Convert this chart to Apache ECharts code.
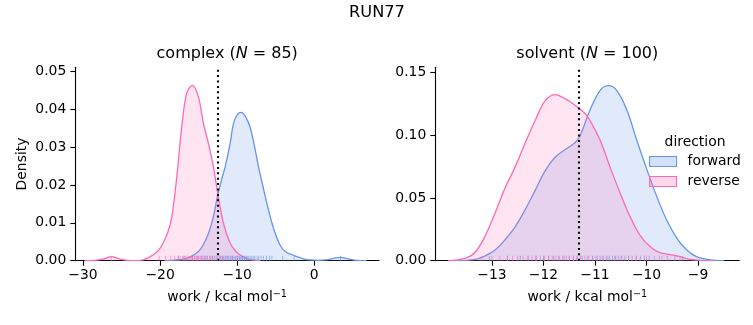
<!DOCTYPE html>
<html>
<head>
<meta charset="utf-8">
<script src="https://cdn.jsdelivr.net/npm/echarts@6/dist/echarts.min.js"></script>
<style>html,body{margin:0;padding:0;background:#fff}#c{width:753px;height:325px}</style>
</head>
<body>
<div id="c"></div>
<script>
// ---- data ----
const suptitle = 'RUN77';
const panels = ['complex', 'solvent'];
const panelN = [85, 100];
const directions = ['forward', 'reverse'];

// KDE curves [work, density]
const complexForward = [[-19.4,0],[-17.8,0.0002],[-16.75,0.0005],[-15.9,0.0012],[-15.03,0.0024],[-14.4,0.0042],[-13.73,0.0072],[-13.1,0.0115],[-12.57,0.0169],[-12.05,0.0212],[-11.56,0.0248],[-10.91,0.031],[-10.48,0.0362],[-9.95,0.0387],[-9.44,0.0392],[-8.9,0.0380],[-8.31,0.0352],[-7.75,0.0302],[-7.23,0.0248],[-6.65,0.0196],[-6.14,0.0151],[-5.6,0.0108],[-5.06,0.0072],[-4.4,0.0040],[-3.77,0.0024],[-3.0,0.0017],[-2.25,0.0011],[-1.4,0.0005],[-0.52,0.0002],[0.5,0.0001],[1.5,0.0002],[2.5,0.0006],[3.38,0.0009],[4.4,0.0005],[5.55,0.0001],[6.8,0]];
const complexReverse = [[-29.8,0],[-28.5,0.0001],[-27.3,0.0005],[-26.3,0.00106],[-25.3,0.0005],[-24.3,0.0001],[-23.0,0],[-22.2,0.0002],[-21.5,0.0008],[-20.65,0.0019],[-20.1,0.0030],[-19.57,0.0048],[-19.0,0.0075],[-18.48,0.0116],[-17.83,0.0222],[-17.19,0.0354],[-16.55,0.0442],[-15.81,0.0463],[-15.03,0.0433],[-14.38,0.0363],[-13.73,0.0310],[-13.08,0.0248],[-12.5,0.0175],[-11.78,0.0099],[-10.91,0.0046],[-10.2,0.0025],[-9.61,0.0015],[-8.9,0.0007],[-8.3,0.0003],[-7.0,0]];
const solventForward = [[-13.72,0],[-13.33,0.0011],[-13.14,0.0037],[-12.94,0.0085],[-12.75,0.0165],[-12.55,0.027],[-12.36,0.0403],[-12.16,0.0562],[-11.97,0.0715],[-11.78,0.0822],[-11.58,0.0885],[-11.39,0.0940],[-11.29,0.0995],[-11.10,0.1198],[-10.90,0.1357],[-10.74,0.1394],[-10.58,0.1357],[-10.38,0.1198],[-10.19,0.0959],[-9.99,0.0721],[-9.80,0.0509],[-9.61,0.0324],[-9.41,0.0178],[-9.22,0.0085],[-9.03,0.0032],[-8.77,0.0006],[-8.5,0]];
const solventReverse = [[-13.85,0],[-13.52,0.0019],[-13.33,0.0065],[-13.14,0.019],[-12.94,0.038],[-12.75,0.0575],[-12.55,0.0747],[-12.36,0.0933],[-12.16,0.1118],[-11.97,0.1272],[-11.78,0.1323],[-11.58,0.129],[-11.39,0.1238],[-11.19,0.117],[-11.10,0.1118],[-10.90,0.0959],[-10.71,0.0747],[-10.51,0.0536],[-10.32,0.035],[-10.13,0.0204],[-9.93,0.0111],[-9.74,0.0064],[-9.54,0.0048],[-9.35,0.0032],[-9.16,0.0011],[-8.9,0.0002],[-8.7,0]];

// rug observations (estimated positions)
const complexForwardRug = [-17.6,-16.9,-15.8,-15.1,-14.6,-14.2,-13.9,-13.5,-13.2,-12.9,-12.6,-12.3,-12.1,-11.9,-11.7,-11.5,-11.3,-11.1,-10.9,-10.7,-10.6,-10.4,-10.2,-10.0,-9.9,-9.7,-9.6,-9.4,-9.3,-9.1,-9.0,-8.8,-8.7,-8.5,-8.3,-8.1,-7.9,-7.7,-7.4,-7.2,-6.9,-6.6,-6.2,-5.8,-5.5,-4.1,-2.6,3.4];
const complexReverseRug = [-26.3,-20.1,-19.3,-18.6,-18.1,-17.7,-17.4,-17.1,-16.9,-16.7,-16.5,-16.3,-16.1,-15.9,-15.8,-15.6,-15.5,-15.3,-15.2,-15.0,-14.8,-14.6,-14.4,-14.1,-13.9,-13.6,-13.3,-13.0,-12.6,-12.2,-11.8,-11.3,-10.6,-10.0];
const solventForwardRug = [-13.05,-12.7,-12.45,-12.3,-12.15,-12.0,-11.9,-11.8,-11.7,-11.6,-11.5,-11.42,-11.35,-11.25,-11.15,-11.05,-10.98,-10.9,-10.84,-10.78,-10.72,-10.66,-10.6,-10.55,-10.48,-10.42,-10.35,-10.28,-10.2,-10.12,-10.04,-9.95,-9.85,-9.75,-9.6,-9.45,-9.3];
const solventReverseRug = [-13.2,-13.0,-12.85,-12.7,-12.6,-12.5,-12.4,-12.3,-12.22,-12.14,-12.06,-11.98,-11.9,-11.83,-11.76,-11.7,-11.63,-11.56,-11.5,-11.42,-11.35,-11.28,-11.2,-11.12,-11.04,-10.95,-10.85,-10.75,-10.62,-10.5,-10.35,-10.2,-10.0,-9.7,-9.35];

// vertical dotted reference lines
const refLines = [-12.55, -11.31];

// axis ticks
const complexXTicks = [-30, -20, -10, 0];
const complexYTicks = [0, 0.01, 0.02, 0.03, 0.04, 0.05];
const solventXTicks = [-13, -12, -11, -10, -9];
const solventYTicks = [0, 0.05, 0.10, 0.15];
const xRanges = [[-31.0, 8.4], [-14.1, -8.2]];
const yRanges = [[0, 0.0511], [0, 0.154]];

// ---- chart ----
const FONT = 'DejaVu Sans';
const BLUE = '#6495ED', PINK = '#FF69B4';
const BLUE_FILL = 'rgba(100,149,237,0.28)', PINK_FILL = 'rgba(255,105,180,0.26)';
const minus = v => (v < 0 ? '\u2212' + Math.abs(v) : String(v));

function xAxisCfg(i, ticks) {
  return {
    type: 'value', gridIndex: i, min: xRanges[i][0], max: xRanges[i][1],
    name: 'work / kcal mol{sup|\u22121}', nameLocation: 'middle', nameGap: 29,
    nameTextStyle: { fontFamily: FONT, fontSize: 13.9, color: '#000', lineHeight: 16,
      rich: { sup: { fontFamily: FONT, fontSize: 9.7, color: '#000', verticalAlign: 'top', lineHeight: 10 } } },
    axisLine: { show: true, onZero: false, lineStyle: { color: '#000', width: 1.1 } },
    axisTick: { show: true, length: 5, lineStyle: { color: '#000', width: 1.1 }, customValues: ticks },
    axisLabel: { show: true, margin: 8, fontFamily: FONT, fontSize: 13.9, color: '#000', customValues: ticks, formatter: minus },
    splitLine: { show: false }
  };
}
function yAxisCfg(i, ticks, name) {
  return {
    type: 'value', gridIndex: i, min: yRanges[i][0], max: yRanges[i][1],
    name: name, nameLocation: 'middle', nameGap: 46,
    nameTextStyle: { fontFamily: FONT, fontSize: 13.9, color: '#000' },
    axisLine: { show: true, onZero: false, lineStyle: { color: '#000', width: 1.1 } },
    axisTick: { show: true, length: 5, lineStyle: { color: '#000', width: 1.1 }, customValues: ticks },
    axisLabel: { show: true, margin: 9, fontFamily: FONT, fontSize: 13.9, color: '#000', customValues: ticks, formatter: v => v.toFixed(2) },
    splitLine: { show: false }
  };
}
function kde(name, data, i, line, fill, z, refX) {
  const s = {
    name: name, type: 'line', xAxisIndex: i, yAxisIndex: i, data: data, smooth: 0.35,
    showSymbol: false, symbol: 'none', z: z,
    lineStyle: { color: line, width: 1.3 }, itemStyle: { color: line },
    areaStyle: { color: fill, origin: 'start' }
  };
  if (refX !== undefined) {
    s.markLine = { silent: true, symbol: 'none', label: { show: false }, animation: false,
      lineStyle: { color: '#000', type: [2, 3.4], width: 2.1 }, data: [{ xAxis: refX }] };
  }
  return s;
}
function rug(name, vals, i, color) {
  return {
    name: name, type: 'scatter', xAxisIndex: i, yAxisIndex: i, silent: true, z: 6,
    symbol: 'rect', symbolSize: [1, 5], symbolOffset: [0, -2.5],
    itemStyle: { color: color, opacity: 0.6 },
    data: vals.map(v => [v, 0])
  };
}

const chart = echarts.init(document.getElementById('c'), null, { renderer: 'canvas' });
const titleRich = { i: { fontFamily: FONT, fontSize: 16, fontStyle: 'italic', fill: '#000' } };
chart.setOption({
  animation: false,
  backgroundColor: '#fff',
  grid: [
    { left: 75.3, top: 67.3, width: 303.7, height: 193.4 },
    { left: 435.3, top: 67.3, width: 304, height: 193.4 }
  ],
  xAxis: [xAxisCfg(0, complexXTicks), xAxisCfg(1, solventXTicks)],
  yAxis: [yAxisCfg(0, complexYTicks, 'Density'), yAxisCfg(1, solventYTicks, '')],
  legend: {
    orient: 'vertical', left: 649, top: 154.5, padding: 0, itemWidth: 27, itemHeight: 10, itemGap: 6,
    selectedMode: false,
    textStyle: { fontFamily: FONT, fontSize: 13.9, color: '#000', padding: [0, 0, 0, 6] },
    data: [
      { name: directions[0], icon: 'rect', itemStyle: { color: BLUE_FILL, borderColor: BLUE, borderWidth: 1.1 } },
      { name: directions[1], icon: 'rect', itemStyle: { color: PINK_FILL, borderColor: PINK, borderWidth: 1.1 } }
    ]
  },
  graphic: [
    { type: 'text', x: 377, y: 13, style: { text: suptitle, fontFamily: FONT, fontSize: 16.2, fill: '#000', align: 'center', verticalAlign: 'middle' } },
    { type: 'text', x: 227.2, y: 54, style: { text: panels[0] + ' ({i|N} = ' + panelN[0] + ')', fontFamily: FONT, fontSize: 16, fill: '#000', align: 'center', verticalAlign: 'middle', rich: titleRich } },
    { type: 'text', x: 587.3, y: 54, style: { text: panels[1] + ' ({i|N} = ' + panelN[1] + ')', fontFamily: FONT, fontSize: 16, fill: '#000', align: 'center', verticalAlign: 'middle', rich: titleRich } },
    { type: 'text', x: 695, y: 142, style: { text: 'direction', fontFamily: FONT, fontSize: 13.9, fill: '#000', align: 'center', verticalAlign: 'middle' } }
  ],
  series: [
    kde(directions[0], complexForward, 0, BLUE, BLUE_FILL, 2),
    kde(directions[1], complexReverse, 0, PINK, PINK_FILL, 3, refLines[0]),
    kde(directions[0], solventForward, 1, BLUE, BLUE_FILL, 2),
    kde(directions[1], solventReverse, 1, PINK, PINK_FILL, 3, refLines[1]),
    rug('forward rug', complexForwardRug, 0, BLUE),
    rug('reverse rug', complexReverseRug, 0, PINK),
    rug('forward rug', solventForwardRug, 1, BLUE),
    rug('reverse rug', solventReverseRug, 1, PINK)
  ]
});
</script>
</body>
</html>
